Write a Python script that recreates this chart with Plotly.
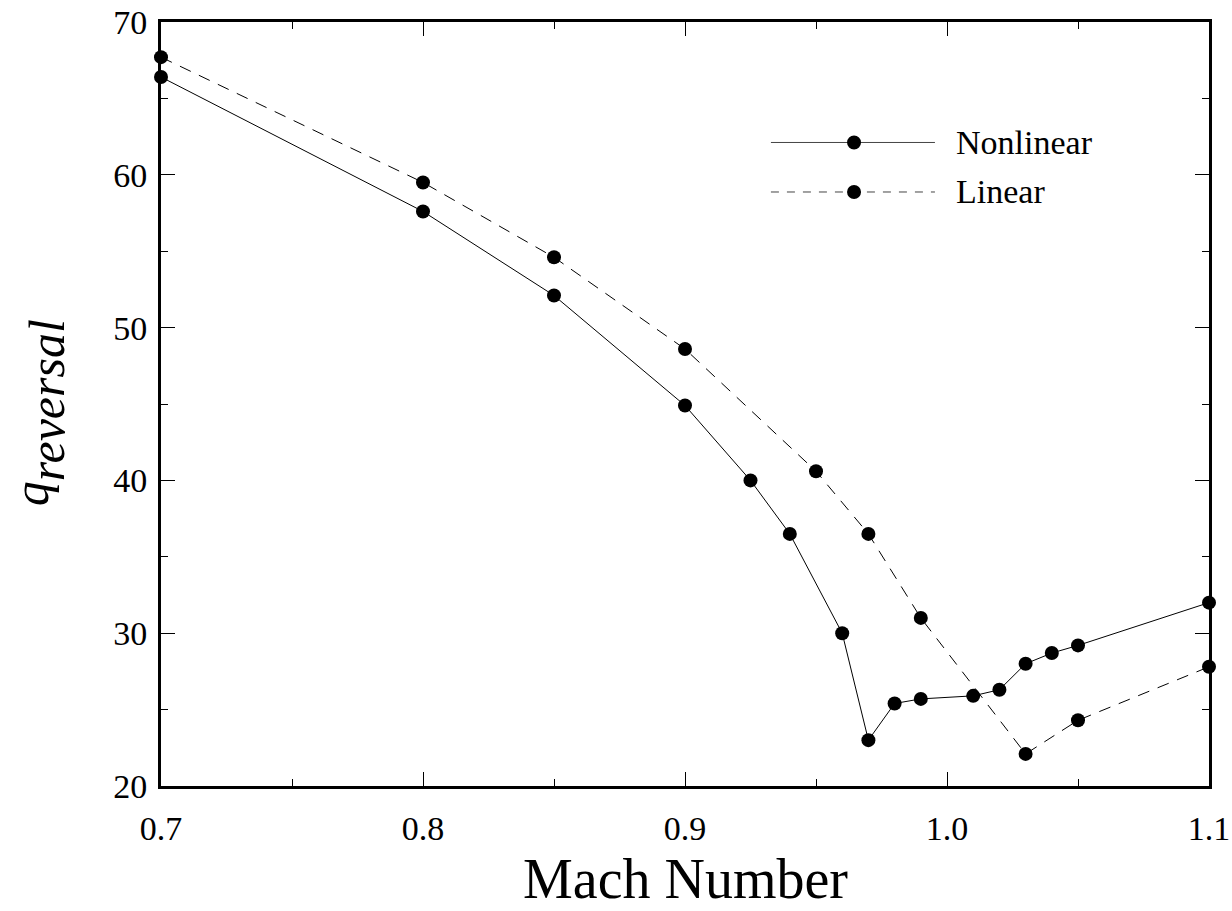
import plotly.graph_objects as go

# Reversal dynamic pressure versus Mach number
mach_nonlinear = [0.70, 0.80, 0.85, 0.90, 0.925, 0.94, 0.96, 0.97, 0.98, 0.99,
                  1.01, 1.02, 1.03, 1.04, 1.05, 1.10]
q_nonlinear = [66.4, 57.6, 52.1, 44.9, 40.0, 36.5, 30.0, 23.0, 25.4, 25.7,
               25.9, 26.3, 28.0, 28.7, 29.2, 32.0]

mach_linear = [0.70, 0.80, 0.85, 0.90, 0.95, 0.97, 0.99, 1.03, 1.05, 1.10]
q_linear = [67.7, 59.5, 54.6, 48.6, 40.6, 36.5, 31.0, 22.1, 24.3, 27.8]

x_ticks = [0.7, 0.8, 0.9, 1.0, 1.1]
x_ticklabels = ["0.7", "0.8", "0.9", "1.0", "1.1"]
y_ticks = [20, 30, 40, 50, 60, 70]

FONT = "Liberation Serif, Times New Roman, serif"

fig = go.Figure()
fig.add_trace(go.Scatter(
    x=mach_nonlinear, y=q_nonlinear, mode="lines+markers", name="Nonlinear",
    line=dict(color="black", width=1),
    marker=dict(color="black", size=14, symbol="circle"),
    cliponaxis=False,
))
fig.add_trace(go.Scatter(
    x=mach_linear, y=q_linear, mode="lines+markers", name="Linear",
    line=dict(color="black", width=1, dash="12px,9px"),
    marker=dict(color="black", size=14, symbol="circle"),
    cliponaxis=False,
))

# Hand-drawn legend: sample line, centred dot, label
legend_rows = [("Nonlinear", "solid", 0.8423), ("Linear", "8px,8px", 0.7775)]
for label, dash, yp in legend_rows:
    fig.add_shape(type="line", xref="paper", yref="paper",
                  x0=0.582, x1=0.7385, y0=yp, y1=yp,
                  line=dict(color="#444", width=1, dash=dash))
    fig.add_shape(type="circle", xref="paper", yref="paper",
                  xsizemode="pixel", ysizemode="pixel",
                  xanchor=0.6613, yanchor=yp, x0=-7, x1=7, y0=-7, y1=7,
                  fillcolor="black", line=dict(color="black", width=0))
    fig.add_annotation(xref="paper", yref="paper", x=0.7605, y=yp,
                       text=label, showarrow=False, xanchor="left",
                       yanchor="middle", xshift=-4,
                       font=dict(family=FONT, size=34, color="black"))

# Axis titles
fig.add_annotation(xref="paper", yref="paper", x=0.5, y=0,
                   xanchor="center", yanchor="top", yshift=-60,
                   text="Mach Number", showarrow=False,
                   font=dict(family=FONT, size=56, color="black"))
fig.add_annotation(xref="paper", yref="paper", x=0, y=0.488,
                   xanchor="left", yanchor="middle", xshift=-160,
                   textangle=-90, showarrow=False,
                   text="<i>q<span style='baseline-shift:-16px'>reversal</span></i>",
                   font=dict(family=FONT, size=50, color="black"))

axis_common = dict(
    showline=True, linecolor="black", linewidth=3, mirror="ticks",
    ticks="inside", ticklen=14, tickwidth=1, tickcolor="black",
    showgrid=False, zeroline=False, automargin=False,
    tickfont=dict(family=FONT, size=34, color="black"),
)

fig.update_xaxes(
    range=[0.7, 1.1], tickvals=x_ticks, ticktext=x_ticklabels,
    minor=dict(ticks="inside", ticklen=7, tickwidth=1, tickcolor="black",
               dtick=0.05, tick0=0.7, showgrid=False),
    ticklabelstandoff=10,
    **axis_common,
)
fig.update_yaxes(
    range=[20, 70], tickvals=y_ticks,
    minor=dict(ticks="inside", ticklen=7, tickwidth=1, tickcolor="black",
               dtick=5, tick0=20, showgrid=False),
    ticklabelstandoff=4,
    **axis_common,
)

fig.update_layout(
    width=1232, height=911,
    margin=dict(l=161, r=23, t=22, b=125),
    plot_bgcolor="white", paper_bgcolor="white",
    showlegend=False,
    font=dict(family=FONT, color="black"),
)

fig.write_html("out.html")
